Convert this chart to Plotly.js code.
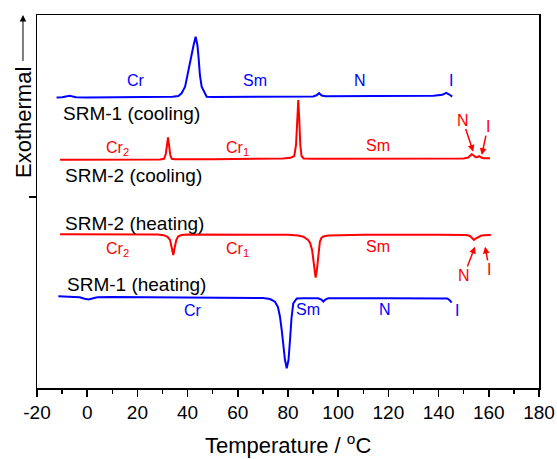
<!DOCTYPE html>
<html>
<head>
<meta charset="utf-8">
<script src="https://cdn.plot.ly/plotly-3.0.1.min.js"></script>
<style>html,body{margin:0;padding:0;background:#fff;}#chart{width:557px;height:459px;}</style>
</head>
<body>
<div id="chart"></div>
<script>
// Temperature (°C) and heat-flow signal (arbitrary units, exothermal up)
const coolSRM1_T = [-12.2, -10, -7, -4.5, 0, 15, 30, 34, 36.3, 37.6, 39.0, 39.9, 41.35, 42.4, 43.2, 43.9, 44.4, 44.9, 45.6, 46.7, 47.6, 50, 70, 90, 91.4, 92.4, 93.4, 95, 115, 138, 141.5, 143, 144.3, 145, 145.4];
const coolSRM1_Y = [290.5, 290.7, 292.2, 290.7, 290.5, 290.6, 290.8, 291.2, 292, 294.7, 301.3, 313, 329.7, 343, 351.3, 343, 329.7, 313, 301.3, 296.3, 291.3, 291, 291.3, 291.6, 292.7, 294.8, 292.5, 291.8, 292, 292.3, 293.2, 295.2, 293.5, 292.2, 291.4];

const coolSRM2_T = [-10.8, 0, 20, 29, 30.6, 31.3, 31.8, 32.2, 32.6, 33.1, 33.7, 35, 50, 70, 78, 81, 82.5, 83.2, 83.7, 84.1, 84.5, 84.9, 85.4, 86.2, 90, 120, 150, 151.8, 152.6, 153.2, 154, 154.8, 155.5, 156.2, 157, 158, 160.5];
const coolSRM2_Y = [228.2, 228.2, 228.4, 228.6, 229.2, 234, 243, 250.5, 243, 233, 229.2, 228.7, 228.8, 229, 229.4, 230.2, 232, 243, 268, 288, 268, 243, 232, 229.5, 229.2, 229.4, 229.6, 230.5, 233, 233.8, 232.5, 230.7, 231, 231.8, 230.5, 229.7, 229.7];

const heatSRM2_T = [-10.8, 10, 28, 30.5, 32, 33, 33.7, 34.3, 34.9, 35.5, 36.2, 37.5, 40, 60, 80, 84, 86.1, 88, 88.8, 89.6, 90.1, 90.6, 91.0, 91.5, 92.1, 92.7, 93.3, 94.1, 96, 110, 140, 151, 152.5, 153.5, 154.1, 154.8, 155.8, 156.8, 158, 160.8];
const heatSRM2_Y = [153.7, 153.7, 153.5, 152.8, 151.2, 148, 141, 133, 141, 148, 151.5, 153, 153.5, 153.6, 153.2, 152.4, 151.3, 148, 145, 138, 126.3, 116, 110.3, 118, 129.7, 146.3, 150, 151.5, 152.5, 153.3, 153.2, 153, 152, 149.5, 148, 149.5, 151.3, 152.2, 152.7, 153];

const heatSRM1_T = [-11.5, -6, -3, -1, 0.5, 2, 4, 10, 30, 60, 70, 72.8, 74.8, 76, 76.8, 77.5, 78.1, 78.8, 79.5, 80.2, 80.8, 81.4, 82.1, 83.5, 86, 92, 93.3, 94.1, 94.9, 96, 120, 143.5, 144.5, 145.2];
const heatSRM1_Y = [91.8, 91.2, 90.7, 89.2, 88.5, 89.5, 90.7, 91, 90.8, 90.5, 90, 89, 86.3, 81, 71.3, 58, 41.3, 28, 19.7, 28, 48, 70, 84.7, 89.5, 89.7, 89.7, 88.5, 86.5, 88.5, 89.7, 89.7, 89.5, 87.5, 85.3];

const xTicks = [-20, 0, 20, 40, 60, 80, 100, 120, 140, 160, 180];

const FONT = 'Liberation Sans, Arial, Helvetica, sans-serif';
const BLUE = '#0000ff', RED = '#ff0000';

function curve(x, y, color) {
  return {x: x, y: y, type: 'scatter', mode: 'lines', line: {color: color, width: 2}, hoverinfo: 'skip', showlegend: false};
}
const data = [
  curve(coolSRM1_T, coolSRM1_Y, BLUE),
  curve(coolSRM2_T, coolSRM2_Y, RED),
  curve(heatSRM2_T, heatSRM2_Y, RED),
  curve(heatSRM1_T, heatSRM1_Y, BLUE)
];

function label(text, x, y, color, size, anchor) {
  return {text: text, x: x, y: y, xref: 'x', yref: 'y', showarrow: false,
          xanchor: anchor || 'center', yanchor: 'middle',
          font: {family: FONT, size: size, color: color}};
}
// text centred at (tx, ty), arrow pointing to (hx, hy)
function arrowLabel(text, tx, ty, hx, hy, color) {
  return {text: text, x: hx, y: hy, ax: tx, ay: ty, xref: 'x', yref: 'y', axref: 'x', ayref: 'y',
          showarrow: true, arrowhead: 2, arrowsize: 0.9, arrowwidth: 1.5, arrowcolor: color,
          standoff: 0, borderpad: 0, font: {family: FONT, size: 16, color: color}};
}

const annotations = [
  label('SRM-1 (cooling)', -10.4, 275, '#000', 19, 'left'),
  label('SRM-2 (cooling)', -9.6, 213, '#000', 19, 'left'),
  label('SRM-2 (heating)', -9.6, 165, '#000', 19, 'left'),
  label('SRM-1 (heating)', -8.8, 104, '#000', 19, 'left'),

  label('Cr', 19.4, 308, BLUE, 16),
  label('Sm', 67, 308, BLUE, 16),
  label('N', 108.7, 308, BLUE, 16),
  label('I', 144.9, 308, BLUE, 16),

  label('Cr<sub>2</sub>', 11.9, 240, RED, 16),
  label('Cr<sub>1</sub>', 59.7, 240, RED, 16),
  label('Sm', 116, 243, RED, 16),
  arrowLabel('N', 149.6, 268, 153.8, 236.3, RED),
  arrowLabel('I', 159.6, 261.3, 157.2, 233, RED),

  label('Cr<sub>2</sub>', 11.9, 139, RED, 16),
  label('Cr<sub>1</sub>', 59.7, 139, RED, 16),
  label('Sm', 116, 142, RED, 16),
  arrowLabel('N', 150.1, 112.5, 154.5, 141.3, RED),
  arrowLabel('I', 160.2, 118.7, 158.5, 141.3, RED),

  label('Cr', 42.3, 78, BLUE, 16),
  label('Sm', 87.8, 79, BLUE, 16),
  label('N', 118.6, 79, BLUE, 16),
  label('I', 147.2, 78, BLUE, 16),

  {text: 'Exothermal', x: -0.0279, y: 1.0, xref: 'paper', yref: 'paper', ax: 0, ay: 107,
   showarrow: true, arrowhead: 2, arrowsize: 1.3, arrowwidth: 1, arrowcolor: '#000', standoff: 0,
   borderpad: 5, textangle: -90, font: {family: FONT, size: 22, color: '#000'}},

  {text: 'Temperature / <sup>o</sup>C', x: 0.5, y: -0.151, xref: 'paper', yref: 'paper',
   showarrow: false, xanchor: 'center', yanchor: 'middle', borderpad: 0,
   font: {family: FONT, size: 22, color: '#000'}}
];

const layout = {
  width: 557, height: 459,
  margin: {l: 37, r: 18, t: 15, b: 71, pad: 0},
  paper_bgcolor: '#fff', plot_bgcolor: '#fff',
  showlegend: false,
  font: {family: FONT, color: '#000'},
  xaxis: {
    range: [-20, 180], tickvals: xTicks, ticktext: xTicks.map(String),
    ticks: 'outside', ticklen: 7, tickwidth: 1.5, tickcolor: '#000',
    minor: {dtick: 10, tick0: -20, ticks: 'outside', ticklen: 4, tickwidth: 1.5, tickcolor: '#000', showgrid: false},
    showline: true, linewidth: 1.5, linecolor: '#000', mirror: true,
    showgrid: false, zeroline: false,
    tickfont: {family: FONT, size: 19, color: '#000'}
  },
  yaxis: {
    range: [0, 373], tickvals: [191], showticklabels: false,
    ticks: 'outside', ticklen: 7, tickwidth: 1.5, tickcolor: '#000',
    showline: true, linewidth: 1.5, linecolor: '#000', mirror: true,
    showgrid: false, zeroline: false
  },
  annotations: annotations
};

Plotly.newPlot('chart', data, layout, {staticPlot: true, displayModeBar: false});
</script>
</body>
</html>
